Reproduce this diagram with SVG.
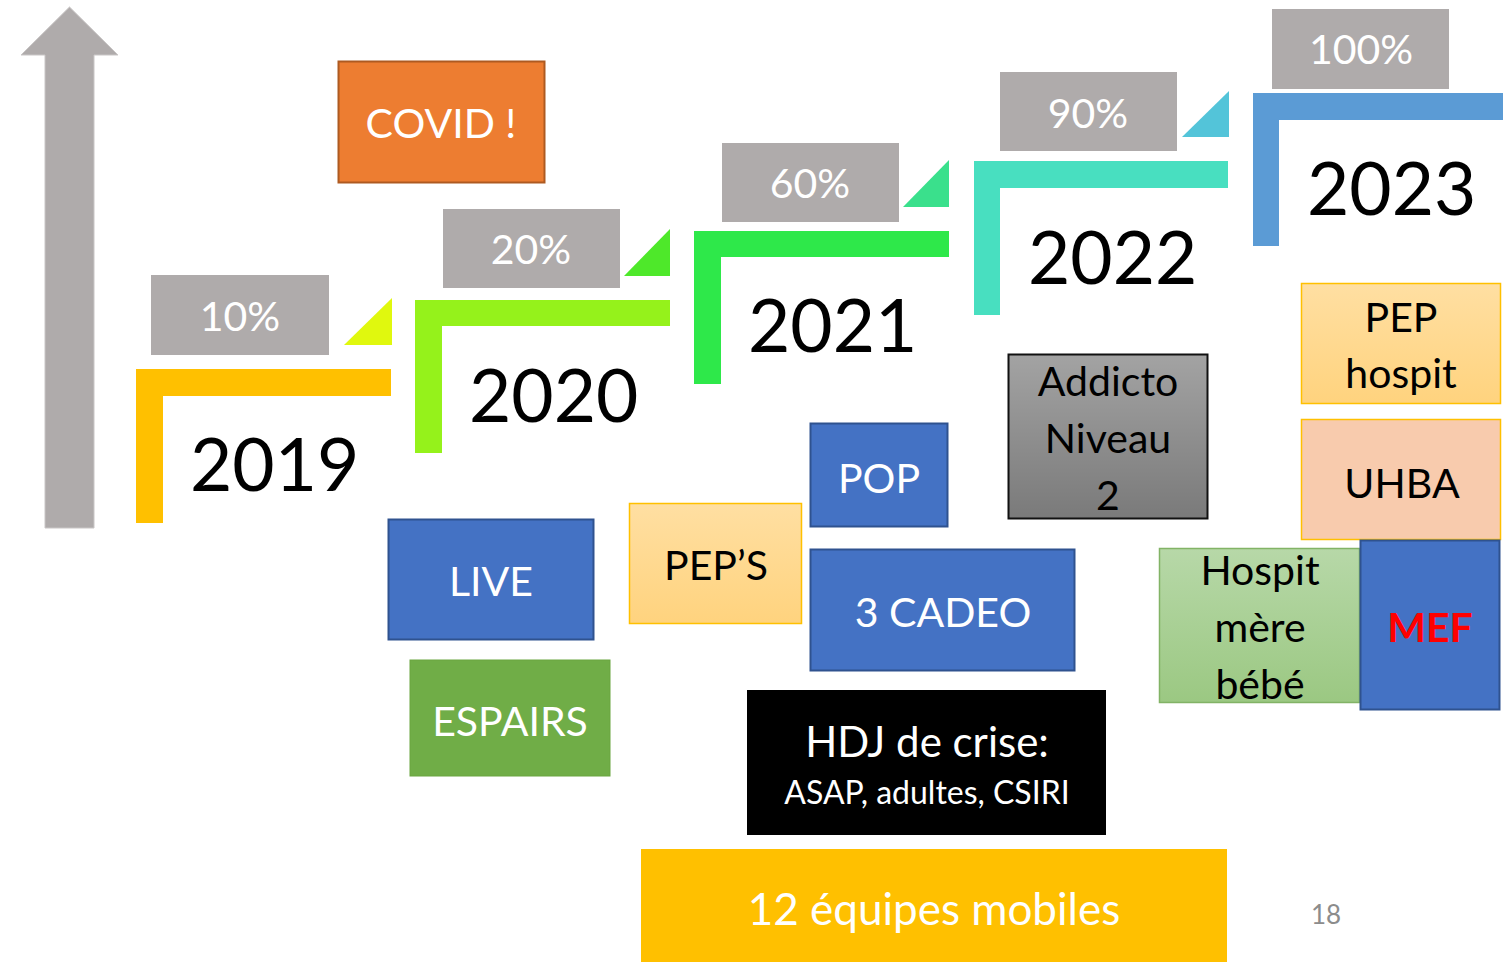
<svg xmlns="http://www.w3.org/2000/svg" width="1503" height="962" viewBox="0 0 1503 962">
<defs>
<linearGradient id="gGray" x1="0" y1="0" x2="0" y2="1"><stop offset="0" stop-color="#A3A3A3"/><stop offset="1" stop-color="#7A7A7A"/></linearGradient>
<linearGradient id="gGreen" x1="0" y1="0" x2="0" y2="1"><stop offset="0" stop-color="#B7D8A8"/><stop offset="1" stop-color="#9BC882"/></linearGradient>
<linearGradient id="gPep" x1="0" y1="0" x2="0" y2="1"><stop offset="0" stop-color="#FFDFA2"/><stop offset="1" stop-color="#FFD37E"/></linearGradient>
</defs>
<style>
text{font-family:Lato,"Open Sans","Liberation Sans",sans-serif;text-anchor:middle}
.pct rect{fill:#AFABAB}
.pct text{fill:#FFFFFF;font-size:41px}
.year{fill:#000;font-size:73px;text-anchor:start}
.blue{fill:#4472C4;stroke:#2F528F;stroke-width:2}
.w{fill:#FFFFFF;font-size:41px}
.b{fill:#000;font-size:41px}
</style>
<rect width="1503" height="962" fill="#FFFFFF"/>
<g id="axis">
<polygon points="69.5,7 118,55 94,55 94,528 45,528 45,55 21,55" fill="#AFABAB" stroke="#C9C6C6" stroke-width="1"/>
</g>
<g id="connectors"></g>
<g id="step-2019">
<path d="M136,369 H391 V396 H163 V523 H136 Z" fill="#FFC000"/>
<polygon points="344,345 392,298 392,345" fill="#E0F80E"/>
<g class="pct"><rect x="151" y="275" width="178" height="80"/><text x="240" y="331">10%</text></g>
<text class="year" x="190" y="491">2019</text>
</g>
<g id="step-2020">
<path d="M415,300 H670 V326 H442 V453 H415 Z" fill="#95F21B"/>
<polygon points="624,276 670,229 670,276" fill="#4EE82A"/>
<g class="pct"><rect x="443" y="209" width="177" height="79"/><text x="531" y="264">20%</text></g>
<text class="year" x="469" y="422">2020</text>
</g>
<g id="step-2021">
<path d="M694,231 H949 V257 H721 V384 H694 Z" fill="#2EE84A"/>
<polygon points="903,207 949,160 949,207" fill="#3AE08C"/>
<g class="pct"><rect x="722" y="143" width="177" height="79"/><text x="810" y="198">60%</text></g>
<text class="year" x="748" y="352">2021</text>
</g>
<g id="step-2022">
<path d="M974,161 H1228 V188 H1000 V315 H974 Z" fill="#48DFC0"/>
<polygon points="1182,137 1229,91 1229,137" fill="#53C4D9"/>
<g class="pct"><rect x="1000" y="72" width="177" height="79"/><text x="1088" y="128">90%</text></g>
<text class="year" x="1028" y="284">2022</text>
</g>
<g id="step-2023">
<path d="M1253,93 H1503 V120 H1279 V246 H1253 Z" fill="#5B9BD5"/>
<g class="pct"><rect x="1272" y="9" width="177" height="80"/><text x="1361" y="64">100%</text></g>
<text class="year" x="1307" y="215">2023</text>
</g>
<g id="covid">
<rect x="338.5" y="61.5" width="206" height="121" fill="#ED7D31" stroke="#AE5A21" stroke-width="2"/>
<text class="w" x="441" y="138">COVID !</text>
</g>
<g id="live">
<rect class="blue" x="388.5" y="519.5" width="205" height="120"/>
<text class="w" x="491" y="596">LIVE</text>
</g>
<g id="espairs">
<rect x="410" y="660" width="200" height="116" fill="#70AD47" stroke="#6AA540" stroke-width="1"/>
<text class="w" x="510" y="736">ESPAIRS</text>
</g>
<g id="peps">
<rect x="629.5" y="503.5" width="172" height="120" fill="url(#gPep)" stroke="#FFC000" stroke-width="1.5"/>
<text class="b" x="716" y="580">PEP’S</text>
</g>
<g id="pop">
<rect class="blue" x="810.5" y="423.5" width="137" height="103"/>
<text class="w" x="879" y="493">POP</text>
</g>
<g id="cadeo">
<rect class="blue" x="810.5" y="549.5" width="264" height="121"/>
<text class="w" x="943" y="627">3 CADEO</text>
</g>
<g id="hdj">
<rect x="747" y="690" width="359" height="145" fill="#000000"/>
<text x="927" y="757" fill="#FFFFFF" font-size="42">HDJ de crise:</text>
<text x="927" y="804" fill="#FFFFFF" font-size="32">ASAP, adultes, CSIRI</text>
</g>
<g id="equipes">
<rect x="641" y="849" width="586" height="113" fill="#FFC000"/>
<text x="934" y="925" fill="#FFFFFF" font-size="44">12 équipes mobiles</text>
</g>
<g id="addicto">
<rect x="1008.5" y="354.5" width="199" height="164" fill="url(#gGray)" stroke="#111" stroke-width="2"/>
<text class="b" x="1108" y="396">Addicto</text>
<text class="b" x="1108" y="453">Niveau</text>
<text class="b" x="1108" y="510">2</text>
</g>
<g id="pep-hospit">
<rect x="1301.5" y="283.5" width="199" height="120" fill="url(#gPep)" stroke="#FFC000" stroke-width="1.5"/>
<text class="b" x="1401" y="332">PEP</text>
<text class="b" x="1401" y="388">hospit</text>
</g>
<g id="uhba">
<rect x="1301.5" y="419.5" width="199" height="120" fill="#F8CBAD" stroke="#FFC000" stroke-width="1.5"/>
<text class="b" x="1402" y="498">UHBA</text>
</g>
<g id="hospit-mere-bebe">
<rect x="1159.5" y="548.5" width="200" height="154" fill="url(#gGreen)" stroke="#82B366" stroke-width="1.5"/>
<text class="b" x="1260" y="585">Hospit</text>
<text class="b" x="1260" y="642">mère</text>
<text class="b" x="1260" y="699">bébé</text>
</g>
<g id="mef">
<rect class="blue" x="1360.5" y="540.5" width="139" height="169"/>
<text x="1430" y="642" fill="#FF0000" font-size="41" font-weight="bold">MEF</text>
</g>
<text x="1326" y="924" fill="#8C8C8C" font-size="26">18</text>
</svg>
